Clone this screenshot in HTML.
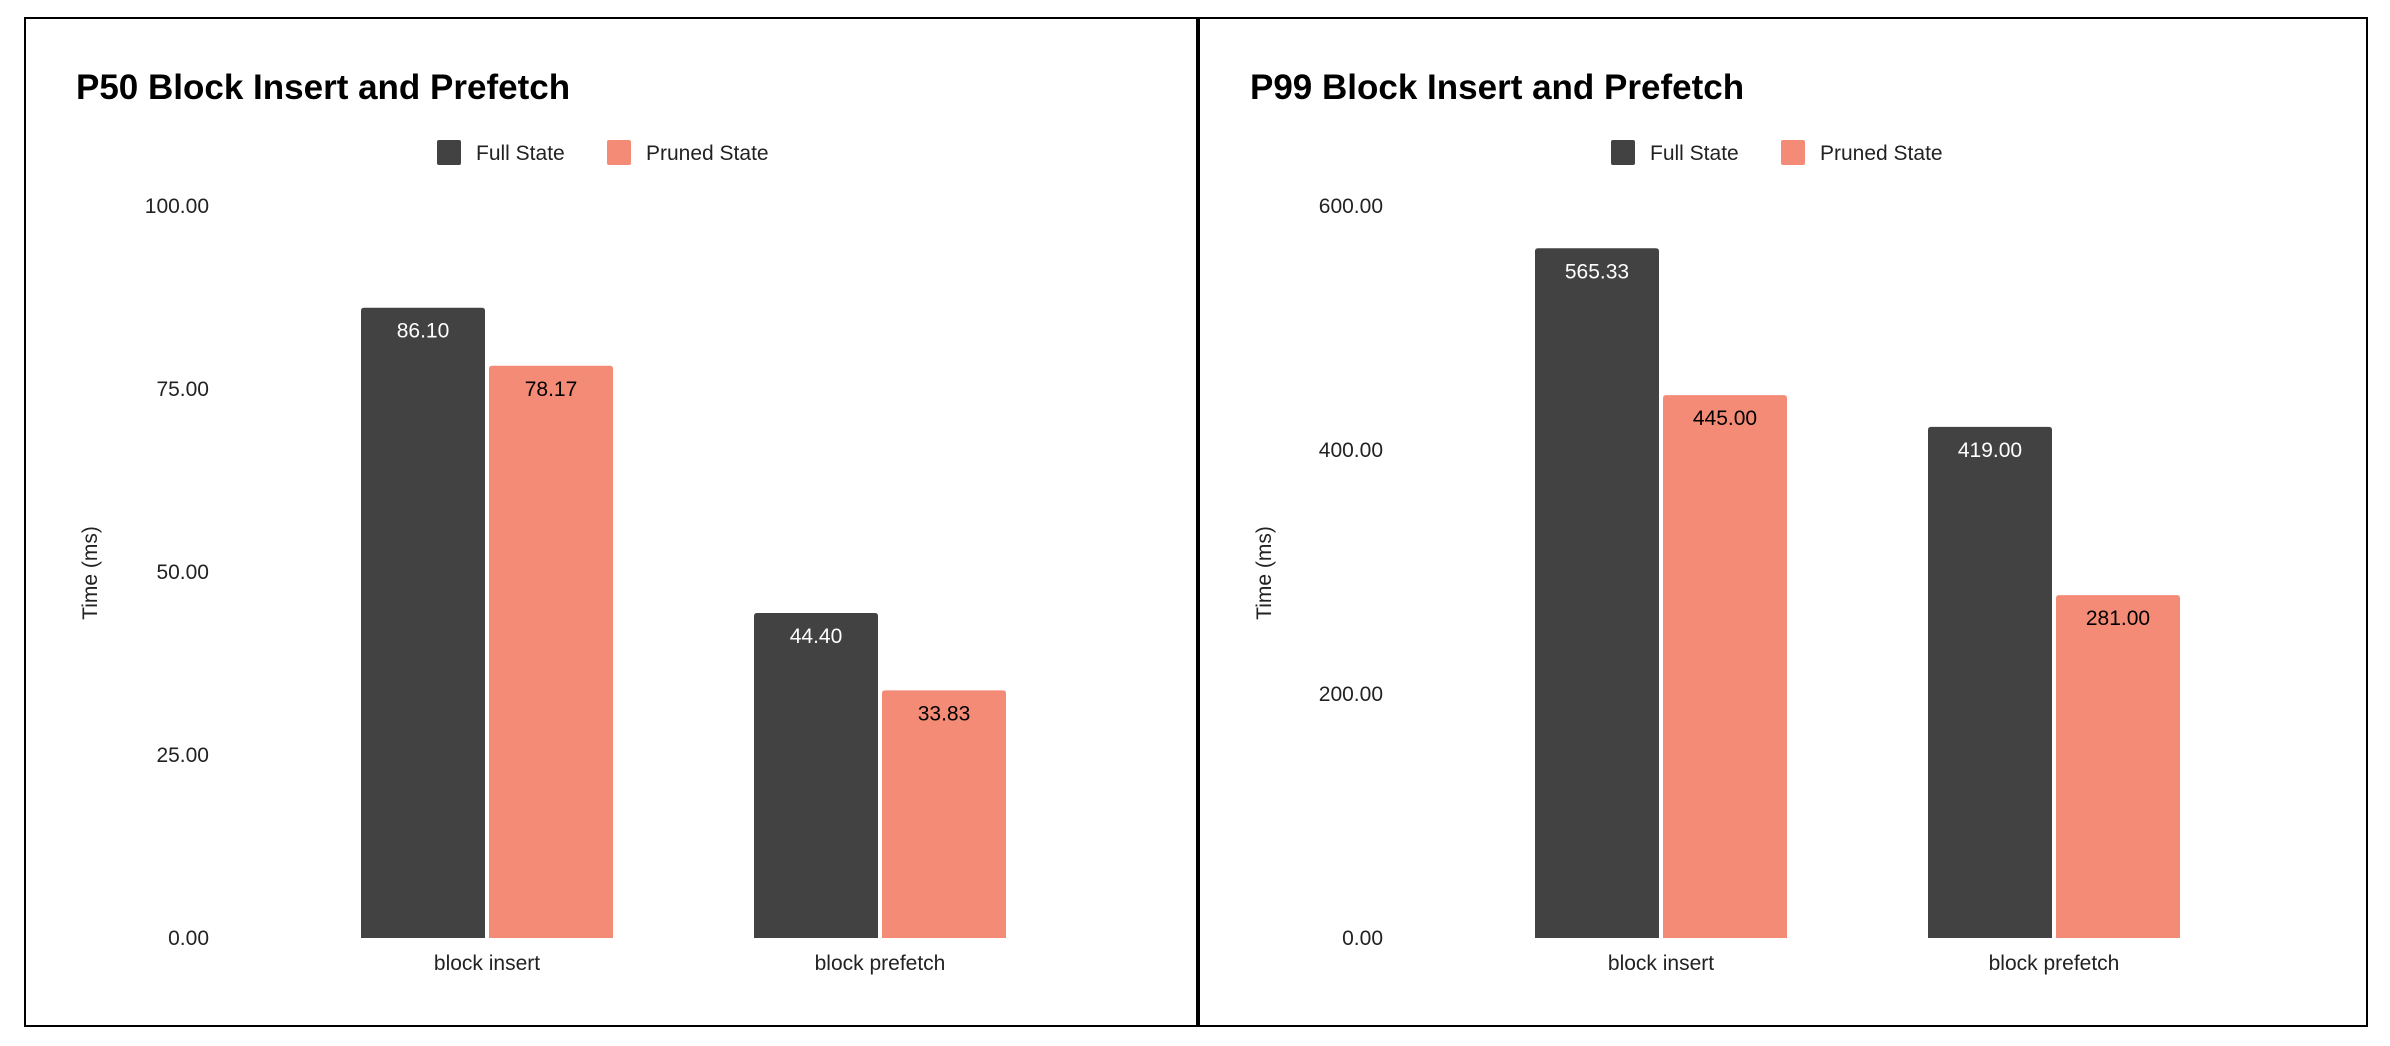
<!DOCTYPE html>
<html><head><meta charset="utf-8">
<style>
html,body{margin:0;padding:0;background:#fff;}
svg{display:block;font-family:"Liberation Sans",Roboto,sans-serif;}
</style></head>
<body>
<svg id="chart" width="2390" height="1046" viewBox="0 0 2390 1046" xmlns="http://www.w3.org/2000/svg">
<rect x="0" y="0" width="2390" height="1046" fill="#fff"/>
<rect x="25" y="18" width="1173" height="1008" fill="none" stroke="#000" stroke-width="2"/>
<rect x="1198" y="18" width="1169" height="1008" fill="none" stroke="#000" stroke-width="2"/>
<line x1="1198" y1="18" x2="1198" y2="1026" stroke="#000" stroke-width="4"/>
<g id="p50"></g>
<g id="p99"></g>
</svg>
<script>
const categories = ["block insert", "block prefetch"];
const seriesNames = ["Full State", "Pruned State"];
const p50Full = [86.10, 44.40];
const p50Pruned = [78.17, 33.83];
const p50Ticks = [0, 25, 50, 75, 100];
const p99Full = [565.33, 419.00];
const p99Pruned = [445.00, 281.00];
const p99Ticks = [0, 200, 400, 600];
const colors = ["#424242", "#f48b77"];
const NS = "http://www.w3.org/2000/svg";

function mk(tag, attrs, parent, text){
  const e = document.createElementNS(NS, tag);
  for (const k in attrs) e.setAttribute(k, attrs[k]);
  if (text !== undefined) e.textContent = text;
  parent.appendChild(e);
  return e;
}

function drawChart(g, cfg){
  const y0 = 938, y1 = 206;
  const maxV = cfg.ticks[cfg.ticks.length-1];
  const yScale = v => y0 - (v / maxV) * (y0 - y1);
  const t = mk("text", {x: cfg.ox + 51, y: 99, "font-size": 35, "font-weight": "bold", fill: "#000"}, g, cfg.title);
  
  
  const legX = [cfg.ox + 412, cfg.ox + 582];
  seriesNames.forEach((n, i) => {
    const r = mk("rect", {x: legX[i], y: 140, width: 24, height: 25, rx: 2, fill: colors[i]}, g);
    
    
    const lt = mk("text", {x: legX[i] + 39, y: 160, "font-size": 21, fill: "#222"}, g, n);
    
    
  });
  cfg.ticks.forEach(v => {
    const tt = mk("text", {x: cfg.ox + 184, y: yScale(v) + 7, "font-size": 21, "text-anchor": "end", fill: "#222"}, g, v.toFixed(2));
    
    
  });
  const at = mk("text", {x: 0, y: 0, "font-size": 21, "text-anchor": "middle", fill: "#222", transform: `translate(${cfg.ox + 72},${573}) rotate(-90)`}, g, "Time (ms)");
  
  
  const groupCenters = [cfg.ox + 462, cfg.ox + 855];
  const bw = 124, gap = 4;
  categories.forEach((c, ci) => {
    [cfg.full, cfg.pruned].forEach((arr, si) => {
      const v = arr[ci];
      const x = groupCenters[ci] - bw - gap/2 + si * (bw + gap);
      const yt = yScale(v);
      const b = mk("path", {d: `M${x},${y0} L${x},${yt+3} Q${x},${yt} ${x+3},${yt} L${x+bw-3},${yt} Q${x+bw},${yt} ${x+bw},${yt+3} L${x+bw},${y0} Z`, fill: colors[si]}, g);
      
      
      const vl = mk("text", {x: x + bw/2, y: yt + 30, "font-size": 21, "text-anchor": "middle", fill: si ? "#000" : "#fff"}, g, v.toFixed(2));
      
      
    });
    const cl = mk("text", {x: groupCenters[ci], y: 970, "font-size": 21, "text-anchor": "middle", fill: "#222"}, g, c);
    
    
  });
}

drawChart(document.getElementById("p50"), {ox: 25, title: "P50 Block Insert and Prefetch", full: p50Full, pruned: p50Pruned, ticks: p50Ticks});
drawChart(document.getElementById("p99"), {ox: 1199, title: "P99 Block Insert and Prefetch", full: p99Full, pruned: p99Pruned, ticks: p99Ticks});
</script>
</body></html>
